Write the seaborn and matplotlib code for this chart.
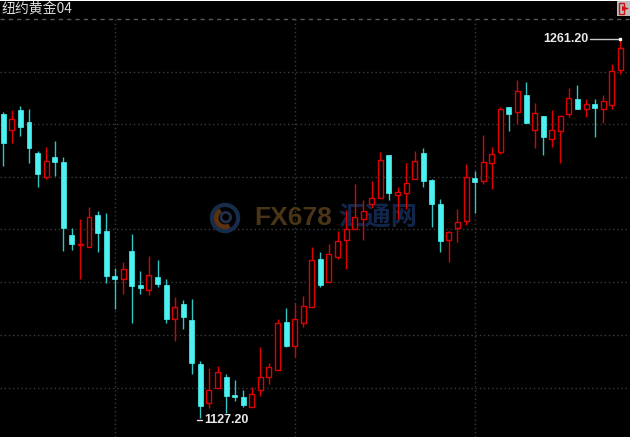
import matplotlib
matplotlib.use("Agg")
import matplotlib.pyplot as plt
import seaborn as sns
import numpy as np
from matplotlib.patches import Rectangle, Circle, Wedge, Polygon

# OHLC (纽约黄金04, one candle per bar)
opens = [1234.7, 1228.9, 1236.1, 1231.9, 1221.0, 1212.3, 1219.4, 1217.6, 1191.9, 1188.5,
         1187.8, 1199.0, 1193.3, 1177.3, 1176.4, 1186.4, 1174.1, 1172.5, 1176.9, 1174.1,
         1162.3, 1167.4, 1161.9, 1146.4, 1132.4, 1137.7, 1141.8, 1135.5, 1134.7, 1131.2,
         1137.1, 1141.8, 1144.2, 1161.1, 1152.7, 1160.9, 1166.3, 1183.3, 1175.3, 1184.0,
         1190.1, 1194.0, 1197.4, 1202.7, 1204.9, 1220.3, 1205.9, 1206.9, 1211.8, 1220.8,
         1211.2, 1202.9, 1190.1, 1194.3, 1196.7, 1211.9, 1211.1, 1217.5, 1221.1, 1237.0,
         1235.3, 1241.3, 1228.9, 1234.0, 1225.8, 1228.7, 1234.6, 1239.9, 1236.3, 1238.1,
         1236.3, 1237.8, 1250.2]
highs = [1235.4, 1236.1, 1237.5, 1236.5, 1221.7, 1223.1, 1225.3, 1219.6, 1194.3, 1197.6,
         1201.7, 1200.3, 1199.6, 1180.2, 1182.4, 1192.3, 1179.1, 1184.6, 1183.0, 1176.2,
         1169.9, 1168.9, 1169.3, 1147.5, 1144.8, 1145.6, 1142.6, 1140.6, 1137.1, 1138.3,
         1152.4, 1146.5, 1162.2, 1166.1, 1167.7, 1170.3, 1187.8, 1186.0, 1188.7, 1193.3,
         1200.7, 1209.9, 1204.3, 1211.1, 1221.4, 1220.3, 1208.8, 1217.2, 1221.7, 1222.8,
         1211.8, 1204.6, 1193.2, 1201.1, 1217.0, 1214.7, 1227.3, 1223.1, 1237.0, 1237.0,
         1246.7, 1246.0, 1238.5, 1234.0, 1236.1, 1234.0, 1243.8, 1244.8, 1239.9, 1239.9,
         1241.4, 1252.2, 1261.2]
lows = [1216.3, 1224.3, 1227.0, 1217.2, 1209.0, 1211.6, 1212.8, 1186.4, 1186.7, 1176.4,
        1187.8, 1185.8, 1174.8, 1165.9, 1171.0, 1160.9, 1171.0, 1170.7, 1173.4, 1160.9,
        1154.5, 1158.8, 1142.6, 1127.2, 1130.6, 1137.7, 1129.1, 1133.2, 1131.0, 1131.2,
        1135.0, 1139.2, 1144.2, 1152.4, 1148.9, 1159.3, 1166.3, 1173.4, 1175.3, 1183.3,
        1179.8, 1194.0, 1190.3, 1201.3, 1204.9, 1204.3, 1197.7, 1201.0, 1211.8, 1209.0,
        1194.9, 1186.0, 1182.2, 1189.5, 1195.4, 1199.6, 1209.9, 1208.2, 1220.5, 1228.8,
        1231.2, 1231.4, 1222.5, 1220.1, 1222.9, 1217.2, 1233.5, 1236.3, 1233.7, 1226.7,
        1231.6, 1236.6, 1248.7]
closes = [1224.3, 1232.9, 1230.0, 1222.5, 1213.5, 1218.2, 1217.6, 1194.5, 1188.6, 1188.7,
          1198.2, 1192.7, 1177.4, 1176.4, 1179.8, 1173.9, 1173.0, 1177.6, 1174.6, 1162.3,
          1166.3, 1163.0, 1146.5, 1131.6, 1137.1, 1143.4, 1135.0, 1134.5, 1131.8, 1135.6,
          1141.8, 1145.4, 1160.7, 1152.8, 1162.1, 1166.9, 1183.1, 1174.2, 1185.2, 1189.8,
          1193.9, 1198.4, 1200.3, 1204.9, 1218.4, 1206.6, 1207.1, 1210.2, 1217.9, 1211.0,
          1202.7, 1189.9, 1193.0, 1196.4, 1212.5, 1210.8, 1217.7, 1220.5, 1236.3, 1234.6,
          1242.7, 1231.6, 1234.9, 1226.4, 1229.0, 1234.0, 1240.2, 1236.3, 1238.1, 1236.7,
          1239.3, 1250.0, 1258.1]

title = "纽约黄金04"
high_label = "1261.20"
low_label = "1127.20"

UP = "#e00000"
DOWN = "#4cf2f2"
GRID = "#3c3c3c"

sns.set_theme(style="dark", rc={"axes.facecolor": "black", "figure.facecolor": "white"})
plt.rcParams["font.family"] = ["Noto Sans CJK SC", "DejaVu Sans"]

W, H = 630, 441
fig = plt.figure(figsize=(W / 100, H / 100), dpi=100)
ax = fig.add_axes([0, 4 / H, 1, 436 / H])
ax.set_facecolor("black")
ax.set_xlim(-0.385, 73.13)
ax.set_ylim(1120.49, 1274.64)
ax.set_xticks([])
ax.set_yticks([])
sns.despine(ax=ax, left=True, bottom=True)

x = np.arange(len(opens))
o = np.array(opens)
c = np.array(closes)
up = c >= o

# grid: header separator plus dotted rows / columns
def frac(py):
    return 1 - (py - 1) / 436

ax.plot([0, 1], [frac(19), frac(19)], transform=ax.transAxes, color="#5a5a5a",
        lw=1, ls=(0, (3, 3)), zorder=1)
for py in [72, 124, 177, 229, 282, 335, 388]:
    ax.plot([0, 1], [frac(py), frac(py)], transform=ax.transAxes, color=GRID,
            lw=1, ls=(0, (1, 2)), zorder=1)
for xi in [13, 34, 55]:
    ax.plot([xi, xi], [0, frac(19)], transform=ax.get_xaxis_transform(), color=GRID,
            lw=1, ls=(0, (1, 2)), zorder=1)

# watermark, behind the candles
ax.text(254 / W, 1 - 218 / H, "FX678", transform=fig.transFigure, ha="left", va="center",
        fontsize=19, fontweight="bold", color="#4a3517",
        family=["Liberation Sans", "DejaVu Sans"], zorder=1)
ax.text(338 / W, 1 - 218 / H, "汇通网", transform=fig.transFigure, ha="left", va="center",
        fontsize=19, fontweight="bold", color="#11264a", zorder=1)

# candles
ax.vlines(x[up], np.array(lows)[up], np.array(highs)[up], color=UP, lw=1, zorder=2)
ax.vlines(x[~up], np.array(lows)[~up], np.array(highs)[~up], color="#33c4c4", lw=1, zorder=2)
body = np.maximum(np.abs(c - o), 0.15)
ax.bar(x[up], body[up], bottom=np.minimum(o, c)[up], width=0.58,
       facecolor="black", edgecolor=UP, linewidth=1, zorder=3)
ax.bar(x[~up], body[~up], bottom=np.minimum(o, c)[~up], width=0.58,
       facecolor=DOWN, edgecolor=DOWN, linewidth=0.5, zorder=3)

# high / low markers
hi_i = int(np.argmax(highs))
lo_i = int(np.argmin(lows))
ax.plot([68.46, hi_i], [highs[hi_i], highs[hi_i]], color="#c8c8c8", lw=1, zorder=4)
ax.plot(hi_i, highs[hi_i], marker="s", ms=2, color="white", zorder=5)
ax.text(68.3, highs[hi_i], high_label, ha="right", va="center", fontsize=9,
        fontweight="bold", color="#e8e8e8", family=["Liberation Sans", "DejaVu Sans"], zorder=5)
ax.plot([lo_i - 0.35, lo_i + 0.2], [lows[lo_i] - 0.6, lows[lo_i] - 0.6], color="#e8e8e8",
        lw=1, zorder=4)
ax.text(lo_i + 0.45, lows[lo_i] - 0.6, low_label, ha="left", va="center", fontsize=9,
        fontweight="bold", color="#e8e8e8", family=["Liberation Sans", "DejaVu Sans"], zorder=5)

# title
ax.text(2 / W, 1 - 9 / H, title, transform=fig.transFigure, ha="left", va="center",
        fontsize=10, color="#dcdcdc", zorder=6)

# little exit icon in the top-right corner
fig.patches.append(Rectangle((617 / W, 1 - 16 / H), 13 / W, 15 / H, transform=fig.transFigure,
                             facecolor="#bcbcbc", edgecolor="none"))
fig.patches.append(Rectangle((619 / W, 1 - 14 / H), 5 / W, 11 / H, transform=fig.transFigure,
                             facecolor="none", edgecolor="#d01010", lw=1))
fig.patches.append(Polygon([(622 / W, 1 - 6 / H), (622 / W, 1 - 11 / H), (629 / W, 1 - 8.5 / H)],
                           closed=True, transform=fig.transFigure, facecolor="#d01010",
                           edgecolor="none"))

# logo circle of the watermark
lax = fig.add_axes([209 / W, 1 - 234 / H, 32 / W, 32 / H])
lax.set_xlim(-1, 1)
lax.set_ylim(-1, 1)
lax.set_aspect("equal")
lax.axis("off")
lax.add_patch(Circle((0, 0), 0.82, facecolor="none", edgecolor="#172c4a", lw=3))
lax.add_patch(Wedge((0, 0), 0.7, 120, 300, width=0.3, facecolor="#5c3112", edgecolor="none"))
lax.add_patch(Circle((0.05, 0.05), 0.3, facecolor="none", edgecolor="#1f3048", lw=2))

fig.savefig("out.png", dpi=100, facecolor="white")
